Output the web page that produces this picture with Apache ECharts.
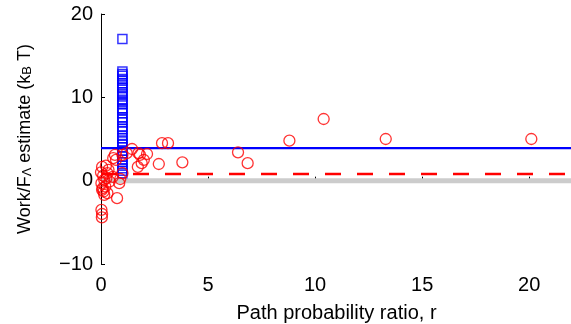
<!DOCTYPE html>
<html lang="en">
<head>
    <meta charset="UTF-8">
    <title>Work estimate vs path probability ratio</title>
    <style>
        body { margin: 0; padding: 0; background: #fff; }
        #chart-container { width: 571px; height: 324px; }
    </style>
</head>
<body>
    <div id="chart-container"></div>
    <script src="https://cdn.jsdelivr.net/npm/echarts@6.0.0/dist/echarts.min.js"></script>
    <script>
        // red circles: [r, work]
        const workPoints = [
            [0.05, 1.65], [0.23, 1.8], [0.0, 1.0], [0.3, 0.9], [0.15, 0.1],
            [0.02, -0.3], [0.2, -0.7], [0.05, -1.1], [0.15, -1.7], [0.3, -1.5],
            [0.1, 0.6], [0.08, -0.9], [0.25, 0.3], [0.12, -1.3], [0.35, 1.3],
            [0.02, -3.5], [0.05, -4.0], [0.04, -4.4], [0.85, -0.3], [0.9, 0.2],
            [0.75, -2.1], [0.55, 0.45], [0.4, -0.1], [0.65, 3.1], [0.57, 2.7],
            [0.7, 2.5], [1.0, 0.9], [1.0, 3.1], [1.2, 3.3], [1.45, 3.8],
            [1.75, 3.3], [1.82, 3.1], [2.15, 3.2], [1.9, 2.1], [1.72, 1.65],
            [2.0, 2.5], [2.7, 2.0], [2.85, 4.5], [3.13, 4.5], [3.8, 2.2],
            [6.4, 3.4], [6.85, 2.1], [8.8, 4.8], [10.4, 7.4], [13.3, 5.0],
            [20.1, 5.0]
        ];
        // blue squares, all at r = 1
        const estimateX = 1;
        const estimateValues = [
            17.0, 13.1, 12.8, 12.6, 12.2, 12.0, 11.7, 11.3, 11.1, 10.6,
            10.4, 10.1, 9.7, 9.4, 9.2, 8.7, 8.5, 8.1, 7.6, 7.3,
            7.0, 6.5, 6.2, 5.9, 5.4, 5.1, 4.7, 4.4, 4.0, 3.6,
            3.3, 2.9, 2.5, 2.2, 1.8, 1.5, 1.2, 0.9
        ];
        const blueLevel = 3.9;
        const redLevel = 0.8;
        const grayLevel = 0;
        const xMax = 22;
        const yTicks = [-10, 0, 10, 20];

        const chart = echarts.init(document.getElementById('chart-container'));
        const font = "'Liberation Sans', Arial, sans-serif";

        const option = {
            backgroundColor: '#fff',
            animation: false,
            grid: { left: 101, top: 14, width: 471, height: 250, outerBoundsMode: 'none', containLabel: false },
            xAxis: {
                type: 'value',
                min: 0,
                max: xMax,
                interval: 5,
                name: 'Path probability ratio, r',
                nameLocation: 'middle',
                nameGap: 39,
                nameTextStyle: { fontFamily: font, fontSize: 20, color: '#000' },
                axisLine: { lineStyle: { color: '#000', width: 1 } },
                axisTick: { inside: true, length: 4, lineStyle: { color: '#000' } },
                axisLabel: { fontFamily: font, fontSize: 20, color: '#000', margin: 11, showMaxLabel: false },
                splitLine: { show: false }
            },
            yAxis: {
                type: 'value',
                min: yTicks[0],
                max: yTicks[yTicks.length - 1],
                interval: 10,
                name: 'Work/F{s|Λ} estimate (k{s|B} T)',
                nameLocation: 'middle',
                nameGap: 67,
                nameTextStyle: {
                    fontFamily: font, fontSize: 18, color: '#000',
                    rich: { s: { fontFamily: font, fontSize: 13, lineHeight: 2, verticalAlign: 'bottom', color: '#000' } }
                },
                axisLine: { show: true, lineStyle: { color: '#000', width: 1 } },
                axisTick: { show: true, inside: true, length: 4, lineStyle: { color: '#000' } },
                axisLabel: {
                    fontFamily: font, fontSize: 20, color: '#000', margin: 8,
                    formatter: v => (v < 0 ? '\u2212' + Math.abs(v) : String(v))
                },
                splitLine: { show: false }
            },
            series: [
                {
                    type: 'line',
                    data: [[0, grayLevel], [xMax, grayLevel]],
                    symbol: 'none',
                    lineStyle: { color: '#cccccc', width: 5 },
                    z: 1
                },
                {
                    type: 'line',
                    data: [[0, redLevel], [xMax, redLevel]],
                    symbol: 'none',
                    lineStyle: { color: '#ff0000', width: 2.5, type: [16, 16] },
                    z: 2
                },
                {
                    type: 'line',
                    data: [[0, blueLevel], [xMax, blueLevel]],
                    symbol: 'none',
                    lineStyle: { color: '#0000ff', width: 2.2 },
                    z: 3
                },
                {
                    type: 'scatter',
                    data: estimateValues.map(v => [estimateX, v]),
                    symbol: 'rect',
                    symbolSize: 9,
                    itemStyle: { color: 'rgba(0,0,0,0)', borderColor: '#0000ff', borderWidth: 1.5 },
                    z: 4
                },
                {
                    type: 'scatter',
                    data: workPoints,
                    symbol: 'circle',
                    symbolSize: 11,
                    itemStyle: { color: 'rgba(0,0,0,0)', borderColor: '#ff0000', borderWidth: 1.3 },
                    z: 5
                }
            ]
        };

        chart.setOption(option);
    </script>
</body>
</html>
